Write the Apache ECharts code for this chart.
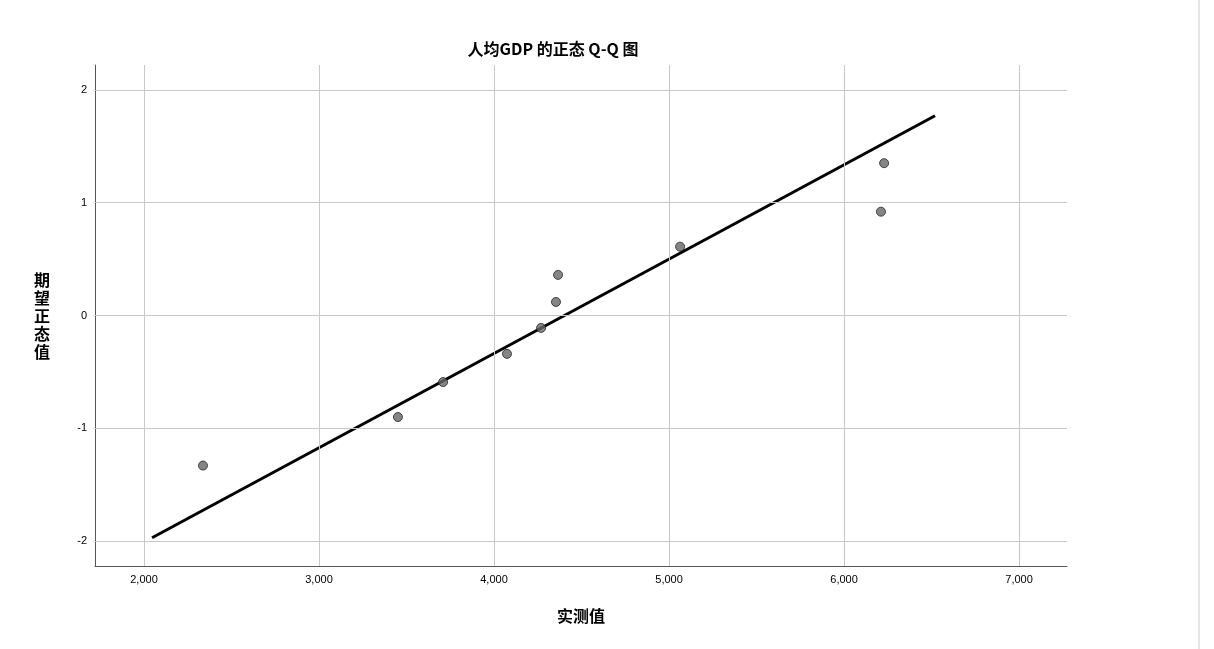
<!DOCTYPE html>
<html><head><meta charset="utf-8">
<script src="https://cdn.jsdelivr.net/npm/echarts@6/dist/echarts.min.js"></script>
<style>html,body{margin:0;background:#fff}#main{width:1214px;height:649px}</style>
</head><body><div id="main"></div>
<script>
var observed = [2337, 3451, 3709, 4074, 4269, 4354, 4366, 5063, 6211, 6229];
var expected = [-1.33, -0.90, -0.59, -0.34, -0.11, 0.12, 0.36, 0.61, 0.92, 1.35];
var lineX = [2046, 6520];
var lineY = [-1.97, 1.77];

var myChart = echarts.init(document.getElementById('main'));
var option = {
    title: {
        text: '人均GDP 的正态 Q-Q 图',
        left: 548, top: 36,
        textAlign: 'center',
        textStyle: { fontSize: 16, fontWeight: 'bold', color: '#000', fontFamily: 'Noto Sans CJK SC' }
    },
    grid: { left: 95, right: 147, top: 65, bottom: 83 },
    xAxis: {
        type: 'value', min: 1720, max: 7274, interval: 1000,
        name: '实测值', nameLocation: 'middle', nameGap: 42,
        nameTextStyle: { fontSize: 16, fontWeight: 'bold', color: '#000', fontFamily: 'Noto Sans CJK SC' },
        axisLine: { onZero: false, lineStyle: { color: '#555' } },
        axisTick: { show: false },
        axisLabel: {
            color: '#000', fontSize: 11,
            customValues: [2000, 3000, 4000, 5000, 6000, 7000],
            formatter: function (v) { return v.toLocaleString('en-US'); }
        },
        splitLine: { show: false }
    },
    yAxis: {
        type: 'value', min: -2.22, max: 2.22,
        name: '期\n望\n正\n态\n值', nameLocation: 'middle', nameGap: 45, nameRotate: 0,
        nameTextStyle: { fontSize: 16, fontWeight: 'bold', color: '#000', lineHeight: 18, fontFamily: 'Noto Sans CJK SC' },
        axisLine: { show: true, onZero: false, lineStyle: { color: '#555' } },
        axisTick: { show: false },
        axisLabel: { color: '#000', fontSize: 11, customValues: [-2, -1, 0, 1, 2] },
        splitLine: { show: false }
    },
    series: [
        {
            type: 'line', silent: true, symbol: 'none',
            data: [],
            markLine: {
                silent: true, symbol: 'none', label: { show: false },
                lineStyle: { color: '#c8c8c8', type: 'solid', width: 1 },
                data: [2000, 3000, 4000, 5000, 6000, 7000].map(function (v) { return { xAxis: v }; })
                    .concat([-2, -1, 0, 1, 2].map(function (v) { return { yAxis: v }; }))
            }
        },
        {
            type: 'line', symbol: 'none', z: 3,
            data: [[lineX[0], lineY[0]], [lineX[1], lineY[1]]],
            lineStyle: { color: '#000', width: 3 }
        },
        {
            type: 'scatter', symbolSize: 9, z: 4,
            data: observed.map(function (v, i) { return [v, expected[i]]; }),
            itemStyle: { color: '#666', borderColor: '#222', borderWidth: 1 }
        }
    ],
    graphic: [{ type: 'line', shape: { x1: 1199, y1: 0, x2: 1199, y2: 649 }, style: { stroke: '#ccc', lineWidth: 1 } }]
};
myChart.setOption(option);
</script></body></html>
